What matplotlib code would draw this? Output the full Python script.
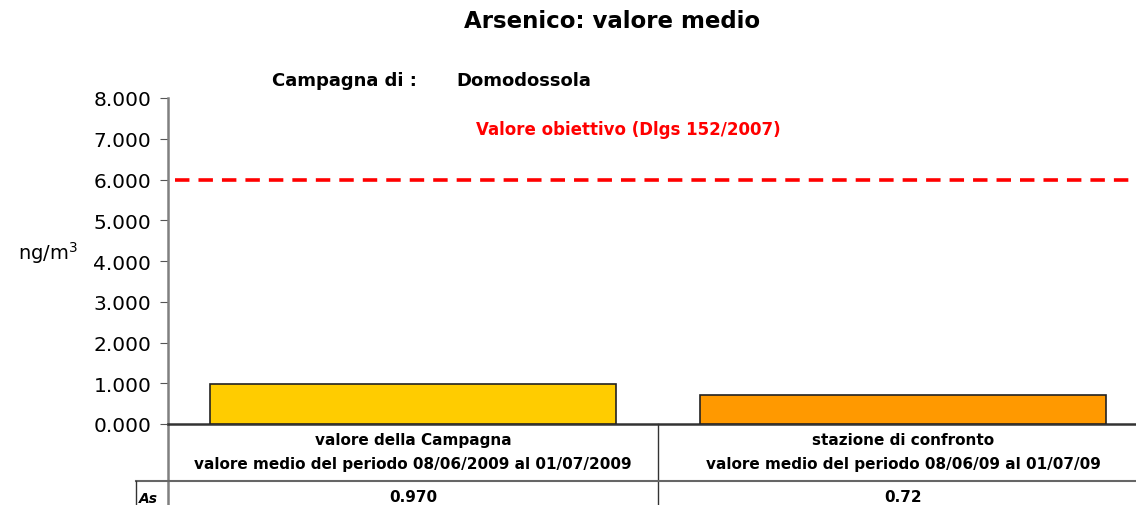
import matplotlib
matplotlib.use("Agg")
import matplotlib.pyplot as plt
from matplotlib.transforms import blended_transform_factory

categories = ["valore della Campagna\nvalore medio del periodo 08/06/2009 al 01/07/2009",
              "stazione di confronto\nvalore medio del periodo 08/06/09 al 01/07/09"]
values = [0.970, 0.72]
value_labels = ["0.970", "0.72"]
row_label = "As"
bar_colors = ["#FFCC00", "#FF9900"]
target_value = 6.0
target_label = "Valore obiettivo (Dlgs 152/2007)"
yticks = [0, 1, 2, 3, 4, 5, 6, 7, 8]
ytick_labels = ["0.000", "1.000", "2.000", "3.000", "4.000", "5.000", "6.000", "7.000", "8.000"]

W, H = 1136, 506
fig = plt.figure(figsize=(W / 100, H / 100), dpi=100)
ax = fig.add_axes([168 / W, 1 - 425 / H, 980 / W, (425 - 99) / H])

x = list(range(len(categories)))
ax.bar(x, values, width=0.83, color=bar_colors, edgecolor="#222222", linewidth=1.2, zorder=3)
ax.set_xlim(-0.5, 1.5)
ax.set_ylim(0, 8)
ax.set_yticks(yticks)
ax.set_yticklabels(ytick_labels, fontsize=14.5, family="DejaVu Sans")
ax.tick_params(axis="y", direction="out", length=6, color="#555555", pad=6)
ax.set_xticks([])
for s in ["top", "right"]:
    ax.spines[s].set_visible(False)
ax.spines["left"].set_color("#808080")
ax.spines["left"].set_linewidth(1.8)
ax.spines["bottom"].set_color("#333333")
ax.spines["bottom"].set_linewidth(1.8)

ax.axhline(target_value, xmin=0.007, xmax=1, color="#FF0000", linestyle=(0, (4, 2.5)), linewidth=2.6, zorder=4)
ax.text(0.44, 7.25, target_label, color="#FF0000", fontsize=12, fontweight="bold",
        ha="center", va="center", family="DejaVu Sans")

fig.text(78 / W, 1 - 253 / H, "ng/m$^3$", fontsize=14, ha="right", va="center",
         family="DejaVu Sans")

# table under the axis
tr = blended_transform_factory(ax.transData, fig.transFigure)
def fy(py):
    return 1 - py / H

lines_kw = dict(transform=tr, clip_on=False, color="#333333", linewidth=1.0)
ax.plot([-0.5, -0.5], [fy(425), fy(506)], transform=tr, clip_on=False, color="#808080", linewidth=1.8)
ax.plot([0.5, 0.5], [fy(425), fy(506)], **lines_kw)
ax.plot([-0.5 - 32 / 490, 1.5], [fy(482), fy(482)], transform=tr, clip_on=False, color="#666666", linewidth=1.5)
ax.plot([-0.5 - 32 / 490, -0.5 - 32 / 490], [fy(482), fy(506)], **lines_kw)

for i, cat in enumerate(categories):
    l1, l2 = cat.split("\n")
    ax.text(i, fy(441), l1, transform=tr, ha="center", va="center", fontsize=11, fontweight="bold",
            family="DejaVu Sans")
    ax.text(i, fy(465), l2, transform=tr, ha="center", va="center", fontsize=11, fontweight="bold",
            family="DejaVu Sans")
    ax.text(i, fy(498), value_labels[i], transform=tr, ha="center", va="center", fontsize=11,
            fontweight="bold", family="DejaVu Sans")
ax.text(-0.5 - 29 / 490, fy(499), row_label, transform=tr, ha="left", va="center", fontsize=10,
        fontweight="bold", fontstyle="italic", family="DejaVu Sans")

fig.text(612 / W, 1 - 22 / H, "Arsenico: valore medio", ha="center", va="center", fontsize=16.5,
         fontweight="heavy", family="DejaVu Sans")
fig.text(272 / W, 1 - 81 / H, "Campagna di :", ha="left", va="center", fontsize=13,
         fontweight="bold", family="DejaVu Sans")
fig.text(456 / W, 1 - 81 / H, "Domodossola", ha="left", va="center", fontsize=13,
         fontweight="bold", family="DejaVu Sans")

fig.savefig("out.png", dpi=100)
